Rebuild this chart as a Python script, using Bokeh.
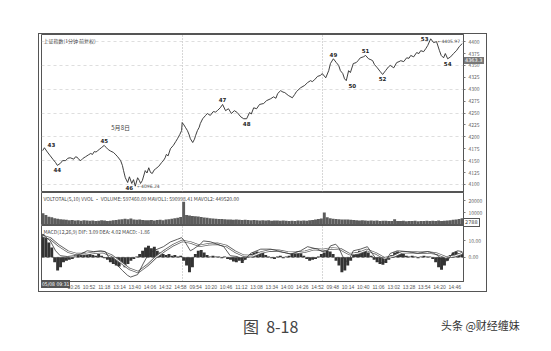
from bokeh.plotting import figure
from bokeh.models import Range1d, FixedTicker, SingleIntervalTicker, Span, Div
from bokeh.layouts import column
from bokeh.embed import file_html
from bokeh.resources import INLINE
from bokeh.core.properties import value

# ---------------- data ----------------
price_bar = [2, 5, 10, 15, 20, 24, 27, 32, 36, 41, 45, 49, 55, 58, 61, 64, 67, 71, 75, 80,
             84, 87, 90, 93, 96, 99, 102, 107, 110, 114, 118, 123, 127, 130, 135, 138, 140, 143, 147, 150,
             154, 157, 160, 164, 167, 169, 172, 177, 180, 183, 186, 189, 192, 195, 200, 205, 208, 211, 213, 216,
             220, 225, 229, 232, 236, 239, 240, 243, 246, 249, 252, 254, 258, 261, 263, 266, 269, 271, 275, 280,
             283, 288, 293, 297, 300, 305, 309, 314, 319, 324, 329, 334, 340, 345, 350, 355, 358, 362, 367, 372,
             379, 384, 391, 396, 400, 403, 408, 412, 415, 421, 428, 432, 435, 442, 449, 454, 459, 462, 466, 471,
             476, 479, 481, 485, 490, 493, 498, 503, 507, 510, 514, 517, 520, 524, 527, 532, 537, 540, 544, 549,
             553, 558, 562, 565, 568, 573, 578, 582, 587, 592, 595, 601, 606, 610, 613, 618, 623, 627, 630, 635,
             640, 644, 647, 652, 656, 659, 664, 669, 674, 679, 682, 686, 689, 693, 698, 703, 708, 713, 718]
price = [4171, 4177, 4168, 4160, 4152, 4146, 4140, 4144, 4150, 4150, 4155, 4156, 4153, 4158, 4157, 4152, 4150, 4155, 4158, 4162,
         4165, 4163, 4169, 4168, 4171, 4174, 4177, 4182, 4178, 4173, 4170, 4167, 4162, 4158, 4150, 4140, 4129, 4114, 4104, 4116,
         4102, 4110, 4096.24, 4114, 4108, 4102, 4108, 4129, 4124, 4135, 4125, 4123, 4130, 4133, 4138, 4146, 4150, 4156, 4163, 4160,
         4175, 4182, 4190, 4196, 4205, 4213, 4230, 4225, 4219, 4213, 4204, 4196, 4188, 4195, 4203, 4213, 4220, 4228, 4238, 4245,
         4249, 4245, 4253, 4252, 4255, 4261, 4268, 4255, 4259, 4249, 4255, 4251, 4242, 4238, 4238, 4251, 4248, 4261, 4259, 4268,
         4270, 4276, 4280, 4284, 4281, 4291, 4297, 4294, 4293, 4287, 4282, 4289, 4295, 4303, 4308, 4314, 4318, 4316, 4320, 4327,
         4329, 4333, 4330, 4324, 4339, 4354, 4364, 4356, 4350, 4339, 4333, 4322, 4318, 4339, 4335, 4354, 4356, 4360, 4366, 4368,
         4371, 4364, 4362, 4360, 4352, 4345, 4337, 4331, 4339, 4347, 4350, 4345, 4356, 4358, 4360, 4358, 4366, 4365, 4371, 4368,
         4377, 4375, 4381, 4379, 4386, 4392, 4405.97, 4398, 4400, 4381, 4371, 4366, 4375, 4364, 4368, 4375, 4381, 4390, 4396]

wave_names = ["43", "44", "45", "46", "47", "48", "49", "50", "51", "52", "53", "54"]
wave_bars = [5, 27, 107, 160, 309, 350, 498, 520, 553, 582, 664, 693]
wave_is_top = [True, False, True, False, True, False, True, False, True, False, True, False]

volume = [9500, 8000, 6500, 6000, 5200, 4800, 4500, 4200, 4000,
          3600, 3800, 3400, 3500, 3200, 3600, 3300, 3100, 3400, 3000, 3200, 3500,
          3300, 3000, 3200, 3500, 3800, 4200, 4500,
          4800, 4400, 5000, 4200, 3900, 4300, 3800, 3600,
          3500, 3700, 3400, 3800, 4000, 3600, 4200, 4500, 4800, 5200, 5600, 6200,
          19000, 8000, 7500, 7200, 7000, 6600, 6200, 5800, 5600, 5200,
          5000, 4800, 4600, 4700, 4400, 4200, 4300, 4000, 4100, 3900, 3800, 4000, 3700,
          3600, 3800, 3500, 3400, 3600, 3300, 3500, 3200, 3400, 3300, 3100, 3400, 3200, 3000,
          3200, 3000, 3300, 3100, 3400, 3200, 3500, 3800, 4200, 4600, 5000,
          10000, 6000, 5200, 4800, 4600, 4500, 4300, 4100, 4200, 3900,
          3700, 3600, 3400, 3500, 3300, 3200, 3400, 3100, 3300, 3000, 3200, 3100, 2900,
          3000, 4500, 3000, 2900, 3100, 2800, 3000, 2900, 3100, 2800, 3000, 2900, 3200, 3000,
          3100, 2900, 3300, 3000, 3200, 3400, 3600, 3900, 4200, 4600, 5200]
last_volume_label = "2788"

macd_hist = [14, 12, 9, 6, -3, -8, -6, -3, -2, -1.5, -1, 0.5,
             1.5, 2.5, 3, 2, 2.5, 1.5, 1, 2, 1, -0.5, -1.5,
             -3, -4, -5, -5.5, -4, -6, -4, -2, -1, 0.5, 2, 4,
             6, 7, 5.5, 6.5, 4, 3, 2, 1.5, 2, 1, 1.5, 0.5, 1,
             -2, -5, -9, -6, 2, 4, 4.5, 3, 1.5,
             0.5, 1, 0.5, 0.5, -0.5, 0.5, -1, -1.5, -2.5, -3, -2, -3.5, -1.5,
             1, 2, 3, 3.5, 2.5, 3, 1.5, 0.5, -0.5, -1, 0.5, 1, -0.5, 0.5, 1,
             2, 3, 3.5, 2.5, 1, -1, -2, -1.5, -1, 0.5, 2,
             3, 4, 3.5, 2, -2, -5, -9, -8, -5, -2, 1.5, 3, 4, 3.5,
             4.5, 3, 1, -1.5, -3, -4, -4.5, -3.5, -1.5, 1.5, 3, 3.5, 3, 2,
             1, 0.5, 1, 0.5, -0.5, 0.5, 1, 0.5, 0.5, -1, -3, -6, -7.5,
             -5, -2, 1.5, 3, 3.5, 2.5, 3]

dif_bar = [2, 15, 24, 32, 44, 55, 67, 78, 89, 101, 109, 118, 130, 138, 147, 152, 164, 174, 181, 191,
           208, 220, 232, 239, 244, 249, 254, 259, 271, 276, 288, 300, 311, 322, 334, 345, 357, 374, 391, 403,
           408, 425, 442, 454, 471, 479, 488, 493, 502, 507, 514, 519, 524, 532, 544, 556, 561, 570, 578, 587,
           595, 607, 624, 642, 659, 669, 677, 684, 693, 701, 710, 718]
dif = [14, 10, 4, 1, 0.5, 1, 2, 4, 3.5, 4, 3.5, -2, -5, -8, -11, -12, -10.5, -3.5, 1, 4,
       6.5, 9.4, 11, 12, 10, 7, 4, 5, 8, 10, 9.5, 8, 6.5, 1, 0.5, -2, 2.5, 5, 5, 4,
       3.5, 2, 4, 6.5, 5, 3.5, 4, 7, 8, 6, 0.5, -2.4, -2, 4, 5, 6.5, 4, -0.5, -3.5, -2.5,
       2.4, 4, 3.5, 2.5, 3.5, 2.5, 1, -2.4, -2, 2.5, 4, 3.5]
dea_bar = [2, 15, 30, 45, 60, 75, 90, 105, 120, 135, 150, 165, 180, 195, 210, 225, 240, 255, 270, 285,
           300, 315, 330, 345, 360, 375, 390, 405, 420, 435, 450, 465, 480, 495, 510, 525, 540, 555, 570, 585,
           600, 615, 630, 645, 660, 675, 690, 705, 718]
dea = [13, 11.5, 7, 3.5, 2, 2, 2.8, 3.2, 1, -3, -7, -9, -5, 0, 4, 7.5, 10, 9, 7, 8,
       8.3, 7, 3.5, 1, 0.8, 3, 4.2, 4, 3, 2.8, 3.5, 5, 4.5, 5.5, 5, 2, 2.5, 4.5, 2.5, -0.5,
       0.5, 3, 3.2, 2.8, 3, 2.2, 0, 0.8, 2.5]

time_labels = ["10:26", "10:52", "11:18", "13:14", "13:40", "14:06", "14:32", "14:58", "09:54", "10:20",
               "10:46", "11:12", "13:08", "13:34", "14:00", "14:26", "14:52", "09:48", "10:14", "10:40",
               "11:06", "13:02", "13:28", "13:54", "14:20", "14:46"]
first_time_label = "05/08 09:31"
price_ticks = [4100, 4125, 4150, 4175, 4200, 4225, 4250, 4275, 4300, 4325, 4350, 4375, 4400]
price_box_label = "4363.3"

main_title = "上证指数(1分钟 前复权)"
vol_title = "VOLTOTAL(5,10) VVOL · VOLUME: 597460.09  MAVOL1: 590998.41  MAVOL2: 449520.00"
macd_title = "MACD(12,26,9) DIF: 3.09  DEA: 4.02  MACD: -1.86"
day_note = "5月8日"
caption = "图&nbsp;&nbsp;8-18"
watermark = "头条 @财经缠妹"

# ---------------- styling helpers ----------------
W = 551
FONT = "Noto Sans CJK SC"
N_BARS = 720
LINE = "#555555"
LEFT, RIGHT = 41, 88


def make_fig(height, y0, y1, top=0, bottom=0, xaxis=False):
    p = figure(width=W, height=height, x_range=Range1d(0, N_BARS), y_range=Range1d(y0, y1),
               output_backend="svg", toolbar_location=None, y_axis_location="right",
               x_axis_location="below" if xaxis else None,
               min_border_left=LEFT, min_border_right=RIGHT, min_border_top=top, min_border_bottom=bottom)
    p.outline_line_color = LINE
    p.outline_line_width = 1
    p.background_fill_color = "white"
    p.border_fill_color = "white"
    p.grid.grid_line_color = None
    ax = p.yaxis[0]
    ax.major_label_text_font_size = "5px"
    ax.major_label_text_color = "#666666"
    ax.major_label_text_font = FONT
    ax.major_tick_out = 2
    ax.major_tick_in = 0
    ax.minor_tick_line_color = None
    ax.axis_line_color = LINE
    ax.major_tick_line_color = "#777777"
    ax.major_label_standoff = 3
    return p


def day_grid(p):
    p.xgrid.ticker = FixedTicker(ticks=[240, 480])
    p.xgrid.grid_line_color = "#999999"
    p.xgrid.grid_line_dash = "1 2"
    p.xgrid.grid_line_width = 0.8


def panel_title(p, text, y_top):
    p.text(x=[0], y=[y_top], text=[text], text_font=value(FONT), text_font_size="5px",
           text_color="#444444", text_baseline="top", x_offset=2, y_offset=2)


def overlay(html, left, top, width, height, css=""):
    return Div(text=html, width=width, height=height, margin=0,
               styles={"position": "absolute", "left": "%dpx" % left, "top": "%dpx" % top},
               stylesheets=[":host { pointer-events: none; } div { %s }" % css])


# ---------------- main price panel ----------------
p1 = make_fig(192, 4083, 4415, top=34)
p1.yaxis[0].ticker = FixedTicker(ticks=price_ticks)
p1.ygrid.grid_line_color = "#c8c8c8"
p1.ygrid.grid_line_dash = "3 3"
p1.ygrid.grid_line_width = 0.6
p1.ygrid.ticker = SingleIntervalTicker(interval=50)
day_grid(p1)
p1.line(price_bar, price, line_color="#2a2a2a", line_width=0.9)
panel_title(p1, main_title, 4415)

lookup = dict(zip(price_bar, price))
label_style = {  # name: (x_offset, y_offset, baseline)
    "43": (7, -1, "bottom"), "46": (-6, 1, "middle"), "50": (6, 2, "top"), "53": (-6, 0, "middle"),
}
for name, b, top in zip(wave_names, wave_bars, wave_is_top):
    xo, yo, base = label_style.get(name, (0, -2 if top else 2, "bottom" if top else "top"))
    p1.text(x=[b], y=[lookup[b]], text=[name], text_font=value("DejaVu Sans"),
            text_font_size="5.5px", text_font_style="bold", text_color="#222222",
            text_align="center", text_baseline=base, x_offset=xo, y_offset=yo)

lo_i = price.index(min(price))
hi_i = price.index(max(price))
p1.text(x=[price_bar[lo_i]], y=[price[lo_i]], text=["←%.2f" % price[lo_i]],
        text_font=value("DejaVu Sans"), text_font_size="4.5px", text_color="#444444",
        text_baseline="middle", x_offset=2, y_offset=0)
p1.text(x=[price_bar[hi_i]], y=[price[hi_i]], text=["←%.2f" % price[hi_i]],
        text_font=value("DejaVu Sans"), text_font_size="4.5px", text_color="#444444",
        text_baseline="middle", x_offset=7, y_offset=3)
p1.text(x=[135], y=[4219], text=[day_note], text_font=value(FONT), text_font_size="6px",
        text_color="#444444", text_align="center", text_baseline="middle")

# ---------------- volume panel ----------------
vol_bar = list(range(0, N_BARS, 5))
p2 = make_fig(33, -800, 26700)
p2.yaxis[0].ticker = FixedTicker(ticks=[10000, 20000])
p2.vbar(x=[b + 2.5 for b in vol_bar], top=volume, bottom=0, width=5,
        fill_color="#5c5c5c", line_color=None)
panel_title(p2, vol_title, 26700)

# ---------------- MACD panel ----------------
p3 = make_fig(67, -14.7, 19.4, bottom=8, xaxis=True)
p3.yaxis[0].ticker = FixedTicker(ticks=[0, 10])
p3.yaxis[0].major_label_overrides = {0: "0.00", 10: "10.00"}
day_grid(p3)
p3.add_layout(Span(location=0, dimension="width", line_color="#444444", line_dash="3 2", line_width=0.7))
p3.vbar(x=[b + 2.5 for b in vol_bar], top=macd_hist, bottom=0, width=5,
        fill_color="#333333", line_color=None)
p3.line(dea_bar, dea, line_color="#666666", line_width=2.4)
p3.line(dea_bar, dea, line_color="white", line_width=1.0)
p3.line(dif_bar, dif, line_color="#333333", line_width=0.8)
panel_title(p3, macd_title, 19.4)

xt = list(range(55, N_BARS, 26))
xa = p3.xaxis[0]
xa.ticker = FixedTicker(ticks=xt)
xa.major_label_overrides = {t: s for t, s in zip(xt, time_labels)}
xa.major_label_text_font_size = "5px"
xa.major_label_text_color = "#555555"
xa.major_label_text_align = "left"
xa.major_tick_in = 0
xa.major_tick_out = 0
xa.minor_tick_line_color = None
xa.axis_line_color = LINE
xa.major_label_standoff = 2

# ---------------- page overlays: outer frame, value boxes, caption ----------------
frame_div = overlay("", 38, 33, 449, 259, "")
frame_div.styles = dict(frame_div.styles, border="1px solid #555555", boxSizing="border-box")
box_css = ("font-family: 'DejaVu Sans'; font-size: 5px; line-height: 7px; padding: 0 1px; "
           "white-space: nowrap;")
price_box = overlay(price_box_label, 464, 50, 22, 7,
                    box_css + " background: #777777; color: white;")
vol_box = overlay(last_volume_label, 464, 212, 22, 7,
                  box_css + " background: white; color: #444444; outline: 0.5px solid #555555;")
time_box = overlay(first_time_label, 41, 276, 26, 8,
                   "font-family: 'Liberation Sans Narrow', 'DejaVu Sans Condensed', sans-serif; "
                   "font-size: 5px; line-height: 8px; padding: 0 1px; white-space: nowrap; "
                   "overflow: hidden; background: #555555; color: white;")
cap_div = overlay(caption, 243, 315, 80, 24,
                  "font-family: 'Noto Sans CJK SC'; font-size: 16px; color: #444444; white-space: nowrap;")
wm_div = overlay(watermark, 441, 318, 110, 18,
                 "font-family: 'Noto Sans CJK SC'; font-size: 11px; color: #333333; white-space: nowrap;")

layout = column(p1, p2, p3, frame_div, price_box, vol_box, time_box, cap_div, wm_div, spacing=0)
open("out.html", "w").write(file_html(layout, INLINE))
